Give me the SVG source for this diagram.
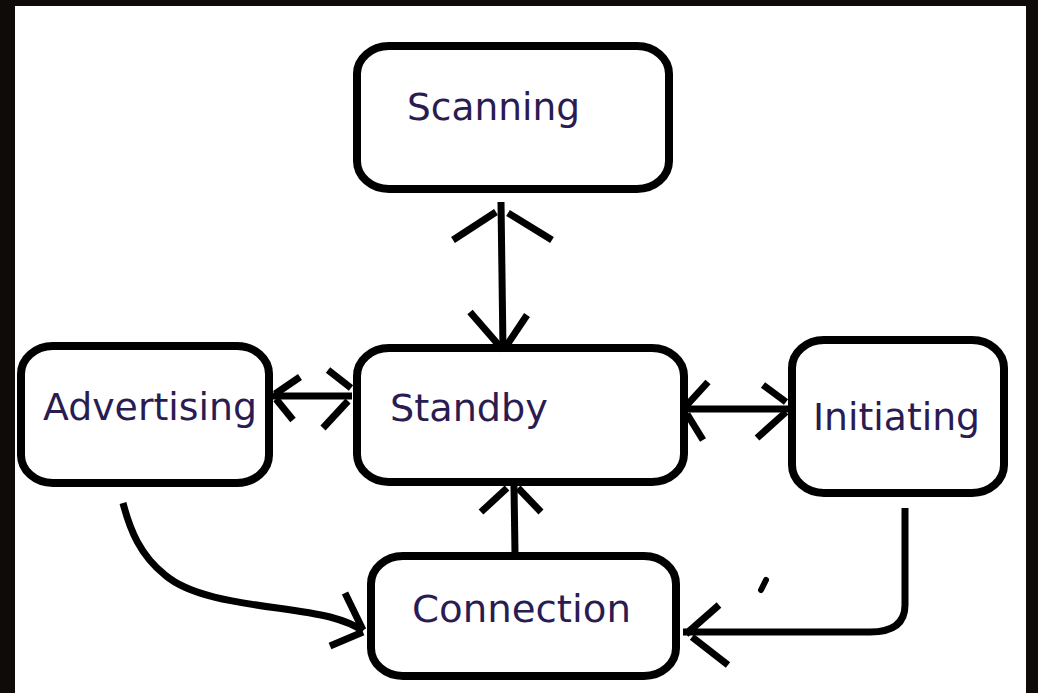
<svg xmlns="http://www.w3.org/2000/svg" width="1038" height="693" viewBox="0 0 1038 693">
  <style>
    .box { fill: #ffffff; stroke: #000000; stroke-width: 8; }
    .lbl { font-family: "DejaVu Sans", Verdana, sans-serif; font-size: 37px; fill: #2a1c52; }
    .ln { fill: none; stroke: #000000; stroke-width: 7; stroke-linecap: butt; stroke-linejoin: round; }
  </style>
  <rect x="0" y="0" width="1038" height="693" fill="#0f0b08"/>
  <rect x="15" y="6" width="1011" height="687" fill="#ffffff"/>

  <g id="scanning">
    <rect class="box" x="357" y="46" width="312" height="143" rx="32" ry="28"/>
    <text class="lbl" x="407" y="120" textLength="173" lengthAdjust="spacingAndGlyphs">Scanning</text>
  </g>
  <g id="standby">
    <rect class="box" x="357" y="348" width="327" height="134" rx="32" ry="28"/>
    <text class="lbl" x="390" y="421" textLength="158" lengthAdjust="spacingAndGlyphs">Standby</text>
  </g>
  <g id="advertising">
    <rect class="box" x="21" y="346" width="248" height="137" rx="32" ry="28"/>
    <text class="lbl" x="43" y="420" textLength="214" lengthAdjust="spacingAndGlyphs">Advertising</text>
  </g>
  <g id="initiating">
    <rect class="box" x="792" y="340" width="212" height="153" rx="32" ry="28"/>
    <text class="lbl" x="813" y="430" textLength="167" lengthAdjust="spacingAndGlyphs">Initiating</text>
  </g>
  <g id="connection">
    <rect class="box" x="371" y="556" width="305" height="120" rx="32" ry="28"/>
    <text class="lbl" x="412" y="622" textLength="219" lengthAdjust="spacingAndGlyphs">Connection</text>
  </g>

  <g id="connectors">
    <!-- Scanning <-> Standby -->
    <path class="ln" d="M501 202 L503 350"/>
    <path class="ln" d="M453 240 L496 212"/>
    <path class="ln" d="M508 213 L552 240"/>
    <path class="ln" d="M470 312 L503 350"/>
    <path class="ln" d="M527 315 L505 348"/>
    <!-- Advertising <-> Standby -->
    <path class="ln" d="M273 396 L352 396"/>
    <path class="ln" d="M300 377 L275 394"/>
    <path class="ln" d="M293 420 L276 399"/>
    <path class="ln" d="M328 370 L351 388"/>
    <path class="ln" d="M323 428 L348 401"/>
    <!-- Standby <-> Initiating -->
    <path class="ln" d="M685 409 L789 409"/>
    <path class="ln" d="M708 382 L687 405"/>
    <path class="ln" d="M703 440 L687 414"/>
    <path class="ln" d="M763 385 L786 402"/>
    <path class="ln" d="M757 438 L786 412"/>
    <!-- Connection -> Standby -->
    <path class="ln" d="M515 553 L514 486"/>
    <path class="ln" d="M481 512 L507 488"/>
    <path class="ln" d="M541 512 L518 488"/>
    <!-- Advertising -> Connection -->
    <path class="ln" d="M123 503 C130 530 140 555 165 575 C200 605 280 605 330 617 C345 621 355 625 363 631"/>
    <path class="ln" d="M345 593 L363 630"/>
    <path class="ln" d="M330 646 L363 632"/>
    <!-- Initiating -> Connection -->
    <path class="ln" d="M905 508 L905 605 Q905 632 870 632 L683 632"/>
    <path class="ln" d="M719 605 L686 634"/>
    <path class="ln" d="M728 665 L692 637"/>
    <!-- stray mark -->
    <path d="M766 580 L761 590" stroke="#000" stroke-width="6" stroke-linecap="round" fill="none"/>
  </g>
</svg>
